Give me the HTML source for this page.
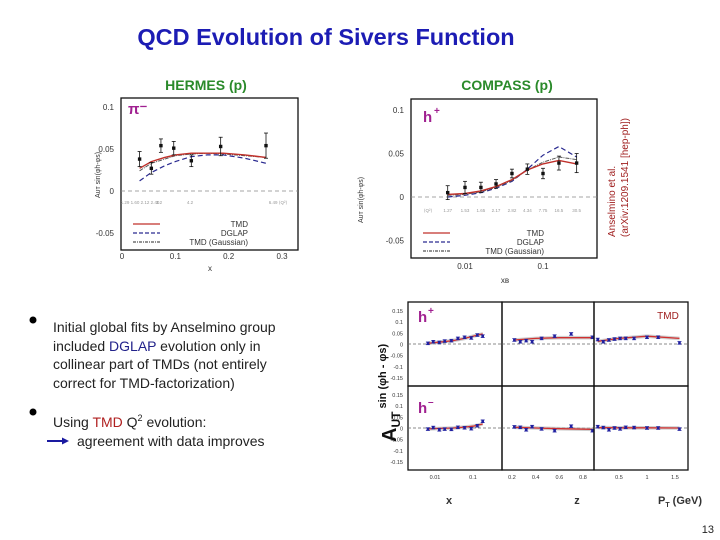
<!DOCTYPE html>
<html><head><meta charset="utf-8">
<style>
body{margin:0;background:#fff;}
svg{display:block;font-family:"Liberation Sans",sans-serif;}
</style></head>
<body>
<svg id="s" width="720" height="540" viewBox="0 0 720 540" xmlns="http://www.w3.org/2000/svg">
<text x="326" y="45" text-anchor="middle" font-size="23.5" font-weight="bold" fill="#1c1cb4">QCD Evolution of Sivers Function</text>
<text x="206" y="90" text-anchor="middle" font-size="14" font-weight="bold" fill="#2a8a2a">HERMES (p)</text>
<text x="507" y="90" text-anchor="middle" font-size="14" font-weight="bold" fill="#2a8a2a">COMPASS (p)</text>

<g font-size="14" fill="#222">
<circle cx="33" cy="320" r="3.5" fill="#000"/>
<text x="53" y="332">Initial global fits by Anselmino group</text>
<text x="53" y="351">included <tspan fill="#22228a">DGLAP</tspan> evolution only in</text>
<text x="53" y="369">collinear part of TMDs (not entirely</text>
<text x="53" y="388">correct for TMD-factorization)</text>
<circle cx="33" cy="412" r="3.5" fill="#000"/>
<text x="53" y="427">Using <tspan fill="#b02020">TMD</tspan> Q<tspan font-size="9" dy="-6">2</tspan><tspan dy="6"> evolution:</tspan></text>
<text x="77" y="446">agreement with data improves</text>
<line x1="47" y1="441" x2="64" y2="441" stroke="#1a1aa0" stroke-width="2"/>
<polygon points="69,441 62,437.5 62,444.5" fill="#1a1aa0"/>
</g>

<text transform="translate(615,237) rotate(-90)" font-size="10" fill="#a02020">Anselmino et al.</text>
<text transform="translate(628,237) rotate(-90)" font-size="10" fill="#a02020">(arXiv:1209.1541 [hep-ph])</text>
<text x="714" y="533" text-anchor="end" font-size="11" fill="#222">13</text>
<text x="668" y="319" text-anchor="middle" font-size="10" fill="#a02020">TMD</text>
<g id="g"></g>
</svg>
<script>
// ---------- HERMES pi- ----------
const hX=[0.033,0.055,0.073,0.097,0.13,0.185,0.27];
const hY=[0.038,0.027,0.054,0.051,0.036,0.053,0.054];
const hE=[0.009,0.007,0.008,0.008,0.007,0.011,0.015];
const hCx=[0.033,0.055,0.08,0.1,0.13,0.16,0.19,0.23,0.27];
const hTMD=[0.027,0.035,0.040,0.043,0.045,0.045,0.045,0.043,0.040];
const hDGLAP=[0.012,0.022,0.030,0.035,0.041,0.043,0.043,0.039,0.033];
const hGauss=[0.024,0.033,0.038,0.042,0.044,0.045,0.044,0.042,0.040];
const hXt=[0,0.1,0.2,0.3];
const hYt=[0.1,0.05,0,-0.05];
const hYtl=["0.1","0.05","0","-0.05"];
const hQ2=["1.29 1.60 2.12 2.40","3.2","4.2","6.49"];

// ---------- COMPASS h+ ----------
const cX=[0.006,0.01,0.016,0.025,0.04,0.063,0.1,0.16,0.27];
const cY=[0.005,0.011,0.011,0.015,0.027,0.032,0.027,0.039,0.039];
const cE=[0.008,0.007,0.006,0.005,0.005,0.006,0.006,0.008,0.011];
const cTMD=[0.003,0.004,0.007,0.012,0.020,0.031,0.038,0.042,0.038];
const cDGLAP=[0.000,0.002,0.005,0.010,0.018,0.032,0.048,0.058,0.046];
const cGauss=[0.002,0.003,0.006,0.011,0.019,0.031,0.040,0.046,0.043];
const cXt=[0.01,0.1];
const cYt=[0.1,0.05,0,-0.05];
const cQ2=["1.27","1.53","1.65","2.17","2.82","4.34","7.75","16.5","30.5"];

// ---------- COMPASS bottom panels ----------
const bXp=[0.0065,0.009,0.013,0.018,0.027,0.04,0.06,0.09,0.13,0.18];
const bXpY=[0.003,0.01,0.007,0.013,0.015,0.025,0.03,0.027,0.04,0.035];
const bXmY=[-0.005,0.002,-0.008,-0.005,-0.006,0.003,0.001,-0.003,0.01,0.03];
const bZ=[0.22,0.27,0.32,0.37,0.45,0.56,0.7,0.88];
const bZpY=[0.018,0.01,0.015,0.01,0.025,0.035,0.045,0.03];
const bZmY=[0.005,0.003,-0.008,0.006,-0.004,-0.012,0.008,-0.012];
const bP=[0.12,0.22,0.32,0.42,0.52,0.62,0.77,1.0,1.2,1.58];
const bPpY=[0.02,0.01,0.018,0.022,0.025,0.025,0.025,0.03,0.03,0.005];
const bPmY=[0.006,0.002,-0.008,0.0,-0.004,0.003,0.002,0.0,0.0,-0.005];
const bXcp=[0.0065,0.013,0.03,0.06,0.1,0.18];
const bXcpT=[0.003,0.008,0.015,0.025,0.035,0.045];
const bXcmT=[-0.004,-0.002,0.0,0.004,0.008,0.018];
const bZc=[0.22,0.4,0.6,0.88];
const bZcpT=[0.018,0.025,0.028,0.028];
const bZcmT=[0.003,0.0,-0.003,-0.006];
const bPc=[0.12,0.5,1.0,1.58];
const bPcpT=[0.012,0.025,0.035,0.025];
const bPcmT=[0.002,0.001,0.001,0.0];
const bYt=[0.15,0.1,0.05,0,-0.05,-0.1,-0.15];
const bYtl=["0.15","0.1","0.05","0","-0.05","-0.1","-0.15"];

const NS="http://www.w3.org/2000/svg";
const G=document.getElementById('g');
function mk(t,a,p){const e=document.createElementNS(NS,t);for(const k in a)e.setAttribute(k,a[k]);(p||G).appendChild(e);return e;}
function txt(x,y,s,sz,anc,fill,p){const e=mk('text',{x:x,y:y,'font-size':sz,'text-anchor':anc||'middle',fill:fill||'#333'},p);e.textContent=s;return e;}
function lin(a,b,c0,c1){return v=>c0+(v-a)/(b-a)*(c1-c0);}
function lg(a,b,c0,c1){return v=>c0+(Math.log10(v)-Math.log10(a))/(Math.log10(b)-Math.log10(a))*(c1-c0);}
function pathOf(xs,ys,sx,sy){return xs.map((v,i)=>(i?'L':'M')+sx(v).toFixed(1)+','+sy(ys[i]).toFixed(1)).join(' ');}
function curve(xs,ys,sx,sy,col,dash,w,name){const e=mk('path',{d:pathOf(xs,ys,sx,sy),fill:'none',stroke:col,'stroke-width':w||1.3,'stroke-dasharray':dash||'none'});

}
function pts(xs,ys,es,sx,sy,col,r,name){xs.forEach((v,i)=>{const x=sx(v),y=sy(ys[i]);
if(es){const l=mk('line',{x1:x,x2:x,y1:sy(ys[i]+es[i]),y2:sy(ys[i]-es[i]),stroke:col,'stroke-width':0.8});


mk('line',{x1:x-2,x2:x+2,y1:sy(ys[i]+es[i]),y2:sy(ys[i]+es[i]),stroke:col,'stroke-width':0.8});
mk('line',{x1:x-2,x2:x+2,y1:sy(ys[i]-es[i]),y2:sy(ys[i]-es[i]),stroke:col,'stroke-width':0.8});}
const c=mk('rect',{x:x-r,y:y-r,width:2*r,height:2*r,fill:col});

});}
function frame(x0,y0,x1,y1,name){const f=mk('rect',{x:x0,y:y0,width:x1-x0,height:y1-y0,fill:'none',stroke:'#111','stroke-width':1.3});

}

// ===== HERMES panel =====
{const sx=lin(0,0.3,122,282), sy=lin(0,0.1,191,107);
frame(121,98,298,250,'hermes-plot-frame');
mk('line',{x1:121,x2:298,y1:sy(0),y2:sy(0),stroke:'#888','stroke-dasharray':'4,3','stroke-width':0.8});
hYt.forEach((v,i)=>{const t=txt(114,sy(v)+3,hYtl[i],8,'end');});
hXt.forEach(v=>{const t=txt(sx(v),259,String(v),8);});
const xt=txt(210,271,'x',8);
const yt=txt(0,0,'A\u1d1c\u1d1b sin(\u03c6h-\u03c6s)',7);yt.setAttribute('transform','translate(100,175) rotate(-90)');
txt(140,204,hQ2[0],4.5,'middle','#999');txt(159,204,hQ2[1],4.5,'middle','#999');txt(190,204,hQ2[2],4.5,'middle','#999');txt(278,204,hQ2[3]+'  \u27e8Q\u00b2\u27e9',4.5,'middle','#999');
curve(hCx,hDGLAP,sx,sy,'#2a2a90','5,3',1.2,'hermes-dglap-curve');
curve(hCx,hGauss,sx,sy,'#555','4,1,1,1',1,'hermes-gauss-curve');
curve(hCx,hTMD,sx,sy,'#c0302a','',1.4,'hermes-tmd-curve');
pts(hX,hY,hE,sx,sy,'#111',1.7,'hermes-data-point');
const pl=txt(128,114,'\u03c0\u207b',15,'start','#a02090');pl.setAttribute('font-weight','bold');
[['TMD','#c0302a','',227],['DGLAP','#2a2a90','4,2',236],['TMD (Gaussian)','#555','3,1,1,1',245]].forEach(l=>{
const ln=mk('line',{x1:133,x2:160,y1:l[3]-3,y2:l[3]-3,stroke:l[1],'stroke-width':1.3,'stroke-dasharray':l[2]||'none'});

const t=txt(248,l[3],l[0],8,'end','#333');});
}

// ===== COMPASS h+ panel =====
{const sx=lg(0.01,0.1,465,543), sy=lin(0,0.1,197,110);
frame(411,99,597,258,'compass-plot-frame');
mk('line',{x1:411,x2:597,y1:sy(0),y2:sy(0),stroke:'#888','stroke-dasharray':'4,3','stroke-width':0.8});
cYt.forEach((v,i)=>{const t=txt(404,sy(v)+3,hYtl[i],8,'end');});
cXt.forEach(v=>{const t=txt(sx(v),269,String(v),8);});
const xt=txt(505,283,'x\u0299',8);
const yt=txt(0,0,'A\u1d1c\u1d1b sin(\u03c6h-\u03c6s)',7);yt.setAttribute('transform','translate(363,200) rotate(-90)');
txt(428,212,'\u27e8Q\u00b2\u27e9',4.5,'middle','#999');
cX.forEach((v,i)=>txt(sx(v),212,cQ2[i],4.5,'middle','#999'));
curve(cX,cDGLAP,sx,sy,'#2a2a90','5,3',1.2,'compass-dglap-curve');
curve(cX,cGauss,sx,sy,'#555','4,1,1,1',1,'compass-gauss-curve');
curve(cX,cTMD,sx,sy,'#c0302a','',1.4,'compass-tmd-curve');
pts(cX,cY,cE,sx,sy,'#111',1.7,'compass-data-point');
const pl=txt(423,122,'h',15,'start','#a02090');pl.setAttribute('font-weight','bold');
const pp=txt(434,114,'+',10,'start','#a02090');pp.setAttribute('font-weight','bold');
[['TMD','#c0302a','',236],['DGLAP','#2a2a90','4,2',245],['TMD (Gaussian)','#555','3,1,1,1',254]].forEach(l=>{
const ln=mk('line',{x1:423,x2:450,y1:l[3]-3,y2:l[3]-3,stroke:l[1],'stroke-width':1.3,'stroke-dasharray':l[2]||'none'});

const t=txt(544,l[3],l[0],8,'end','#333');});
}

// ===== bottom multi-panel =====
{const cols=[[408,502],[502,594],[594,688]];
const rows=[[302,386,344],[386,470,428]];
const sxs=[lg(0.01,0.1,435,473),lin(0.2,0.8,512,583),lin(0.5,1.5,619,675)];
const k=33.6/0.15;
const data=[[bXp,bXpY,bXmY,bXcp,bXcpT,bXcmT],[bZ,bZpY,bZmY,bZc,bZcpT,bZcmT],[bP,bPpY,bPmY,bPc,bPcpT,bPcmT]];
const names=['x','z','pt'];
rows.forEach((r,ri)=>{const sy=v=>r[2]-v*k;
bYt.forEach((v,i)=>{const t=txt(403,sy(v)+2.5,bYtl[i],5.5,'end');});
cols.forEach((c,ci)=>{frame(c[0],r[0],c[1],r[1],'bottom-panel-'+(ri?'hminus':'hplus')+'-'+names[ci]);
mk('line',{x1:c[0],x2:c[1],y1:r[2],y2:r[2],stroke:'#666','stroke-dasharray':'3,2','stroke-width':0.7});
const d=data[ci],sx=sxs[ci],ys=ri?d[2]:d[1],ct=ri?d[5]:d[4];
const band=mk('path',{d:pathOf(d[3],ct.map(v=>v+0.008),sx,sy)+' '+pathOf(d[3].slice().reverse(),ct.slice().reverse().map(v=>v-0.008),sx,sy).replace('M','L')+' Z',fill:'#bbb',opacity:0.7});

curve(d[3],ct,sx,sy,'#d03030','',1.3,'bottom-tmd-curve');
pts(d[0],ys,d[0].map(()=>0.006),sx,sy,'#2020a0',1.3,'bottom-data-point');});});
const xl=[[0.01,'0.01',0],[0.1,'0.1',0],[0.2,'0.2',1],[0.4,'0.4',1],[0.6,'0.6',1],[0.8,'0.8',1],[0.5,'0.5',2],[1,'1',2],[1.5,'1.5',2]];
xl.forEach(a=>{const t=txt(sxs[a[2]](a[0]),479,a[1],5.5);});
[['x',449],['z',577]].forEach(a=>{const t=txt(a[1],504,a[0],11);t.setAttribute('font-weight','bold');});
const pt2=txt(658,504,'',11,'start');pt2.innerHTML='P<tspan font-size="7" dy="3">T</tspan><tspan dy="-3"> (GeV)</tspan>';pt2.setAttribute('font-weight','bold');

const hp=txt(418,322,'h',15,'start','#a02090');hp.setAttribute('font-weight','bold');
const hpp=txt(428,314,'+',10,'start','#a02090');hpp.setAttribute('font-weight','bold');
const hm=txt(418,413,'h',15,'start','#a02090');hm.setAttribute('font-weight','bold');
const hmm=txt(428,405,'\u2013',10,'start','#a02090');hmm.setAttribute('font-weight','bold');
const ya=txt(0,0,'',20,'start','#111');ya.setAttribute('transform','translate(396,442) rotate(-90)');ya.setAttribute('font-weight','bold');
ya.innerHTML='A<tspan font-size="12" dy="4">UT</tspan><tspan font-size="11" dy="-14"> sin (\u03c6h - \u03c6s)</tspan>';

}
</script>
</body></html>
